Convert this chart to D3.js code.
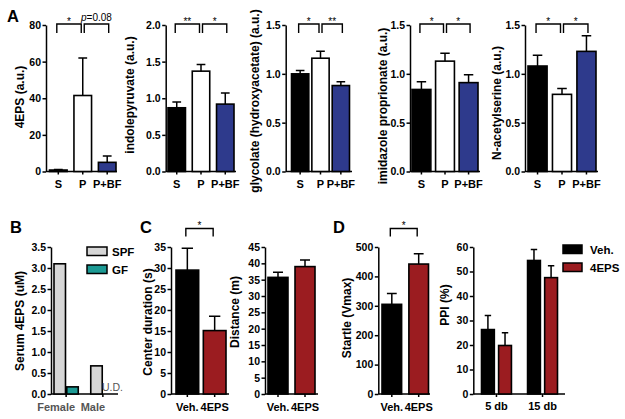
<!DOCTYPE html>
<html>
<head>
<meta charset="utf-8">
<script src="https://cdn.jsdelivr.net/npm/d3@7"></script>
<style>
body { margin: 0; background: #fff; }
svg text { font-family: Arial, "Liberation Sans", sans-serif; }
</style>
</head>
<body>
<svg id="fig" width="625" height="419"></svg>
<script>
// ---- row A: metabolites, S / P / P+BF ----
var groupsA = ['S', 'P', 'P+BF'];
var eps4Mean = [0.8, 41.5, 5.0];
var eps4Sem = [0.3, 20.5, 3.5];
var indoleMean = [0.87, 1.37, 0.92];
var indoleSem = [0.08, 0.09, 0.15];
var glycolateMean = [1.00, 1.16, 0.88];
var glycolateSem = [0.035, 0.07, 0.04];
var imidazoleMean = [0.84, 1.13, 0.91];
var imidazoleSem = [0.08, 0.08, 0.08];
var acetylMean = [1.08, 0.79, 1.23];
var acetylSem = [0.11, 0.06, 0.16];
var sigEps4 = [[0, 1, '*'], [1, 2, 'p=0.08']];
var sigIndole = [[0, 1, '**'], [1, 2, '*']];
var sigGlycolate = [[0, 1, '*'], [1, 2, '**']];
var sigImidazole = [[0, 1, '*'], [1, 2, '*']];
var sigAcetyl = [[0, 1, '*'], [1, 2, '*']];

// ---- B: serum 4EPS ----
var sexes = ['Female', 'Male'];
var colonies = ['SPF', 'GF'];
var serumSPF = [3.1, 0.67];
var serumGF = [0.17, null]; // male GF undetected

// ---- C / D: Veh. vs 4EPS ----
var treatments = ['Veh.', '4EPS'];
var centerMean = [29.5, 15.1];
var centerSem = [5.2, 3.4];
var distMean = [35.7, 39.0];
var distSem = [1.6, 2.0];
var startleMean = [305, 442];
var startleSem = [37, 35];
var ppiLevels = ['5 db', '15 db'];
var ppiVeh = [26.3, 54.5];
var ppiVehSem = [5.7, 4.5];
var ppiEps = [19.8, 47.5];
var ppiEpsSem = [5.2, 4.8];

var NAVY = '#2e3a8c', RED = '#9b1c20', GRAY = '#d6d6d6', TEAL = '#1c9a94';
var colorsA = ['#000', '#fff', NAVY];
var colorsVE = ['#000', RED];

var svg = d3.select('#fig');

function panel(o) {
    var g = svg.append('g');
    var y = d3.scaleLinear().domain([0, o.max]).range([o.bottom, o.top]);
    var x = d3.scaleBand().domain(o.cats).range([o.bandL, o.bandR]).paddingInner(o.pad);
    var ya = g.append('g').attr('transform', 'translate(' + o.x0 + ',0)')
        .call(d3.axisLeft(y).tickValues(d3.range(0, o.max + o.step / 2, o.step))
            .tickFormat(d3.format(o.fmt)).tickSize(3.5).tickSizeOuter(0).tickPadding(1.5));
    ya.selectAll('path,line').attr('stroke', '#000').attr('stroke-width', 1.5);
    ya.selectAll('text').attr('font-size', 10.5).attr('font-weight', 'bold').attr('fill', '#000');
    var xa = g.append('g').attr('transform', 'translate(0,' + o.bottom + ')')
        .call(d3.axisBottom(x).tickSize(3).tickSizeOuter(0).tickPadding(o.xpad || 6));
    xa.select('.domain').remove();
    xa.selectAll('line').attr('stroke', '#000').attr('stroke-width', 1.5);
    xa.selectAll('text').attr('font-size', 11).attr('font-weight', 'bold').attr('fill', '#000');
    g.append('line').attr('x1', o.x0).attr('x2', o.x1).attr('y1', o.bottom).attr('y2', o.bottom)
        .attr('stroke', '#000').attr('stroke-width', 1.5);
    g.append('text')
        .attr('transform', 'translate(' + o.labelX + ',' + (o.labelY || (o.top + o.bottom) / 2) + ') rotate(-90)')
        .attr('text-anchor', 'middle').attr('dy', '0.35em')
        .attr('font-size', 12).attr('font-weight', 'bold').text(o.label);
    return {g: g, x: x, y: y, xa: xa};
}

function drawBars(g, y, xs, bw, means, sems, colors) {
    means.forEach(function (m, i) {
        if (m == null) return;
        g.append('rect').attr('x', xs[i]).attr('y', y(m)).attr('width', bw)
            .attr('height', y(0) - y(m)).attr('fill', colors[i])
            .attr('stroke', '#000').attr('stroke-width', 1.6);
        if (!sems[i]) return;
        var cx = xs[i] + bw / 2, cap = Math.max(6, bw * 0.5);
        g.append('path')
            .attr('d', 'M' + cx + ',' + y(m) + 'V' + y(m + sems[i]) + 'M' + (cx - cap / 2) + ',' + y(m + sems[i]) + 'H' + (cx + cap / 2))
            .attr('stroke', '#000').attr('stroke-width', 1.5).attr('fill', 'none');
    });
}

function simpleBars(p, cats, means, sems, colors) {
    drawBars(p.g, p.y, cats.map(function (c) { return p.x(c); }), p.x.bandwidth(), means, sems, colors);
}

function brackets(p, cats, list, top, len) {
    list.forEach(function (b, k) {
        var off = k > 0 ? 1.5 : -1.5;
        var a = p.x(cats[b[0]]) + p.x.bandwidth() / 2 + off;
        var c = p.x(cats[b[1]]) + p.x.bandwidth() / 2 + off;
        p.g.append('path').attr('d', 'M' + a + ',' + (top + len) + 'V' + top + 'H' + c + 'V' + (top + len))
            .attr('fill', 'none').attr('stroke', '#000').attr('stroke-width', 1.4);
        var t = p.g.append('text').attr('x', (a + c) / 2).attr('text-anchor', 'middle').attr('font-size', 10);
        if (b[2].charAt(0) === 'p') {
            t.attr('y', top - 3);
            t.append('tspan').attr('font-style', 'italic').text('p');
            t.append('tspan').text(b[2].slice(1));
        } else {
            t.attr('y', top + 0.5).text(b[2]);
        }
    });
}

function letter(t, x, y) {
    svg.append('text').attr('x', x).attr('y', y).attr('font-size', 16.5).attr('font-weight', 'bold').text(t);
}

// ---------- row A ----------
var rowA = {top: 25, bottom: 171.5, cats: groupsA};
var panelsA = [
    {x0: 46, x1: 117, bandL: 49.5, bandR: 116, pad: 0.28, max: 80, step: 20, fmt: 'd', label: '4EPS (a.u.)', labelX: 20, labelY: 97, mean: eps4Mean, sem: eps4Sem, sig: sigEps4},
    {x0: 165.7, x1: 236, bandL: 168, bandR: 234, pad: 0.28, max: 2, step: 0.5, fmt: '.1f', label: 'indolepyruvate (a.u.)', labelX: 130, labelY: 95, mean: indoleMean, sem: indoleSem, sig: sigIndole},
    {x0: 285.7, x1: 352, bandL: 291.5, bandR: 349.5, pad: 0.15, max: 1.5, step: 0.5, fmt: '.1f', label: 'glycolate (hydroxyacetate) (a.u.)', labelX: 255, labelY: 101, mean: glycolateMean, sem: glycolateSem, sig: sigGlycolate},
    {x0: 410, x1: 480, bandL: 412, bandR: 478, pad: 0.2, max: 1.5, step: 0.5, fmt: '.1f', label: 'imidazole proprionate (a.u.)', labelX: 383, labelY: 106, mean: imidazoleMean, sem: imidazoleSem, sig: sigImidazole},
    {x0: 525, x1: 598, bandL: 528, bandR: 596, pad: 0.22, max: 1.5, step: 0.5, fmt: '.1f', label: 'N-acetylserine (a.u.)', labelX: 497, labelY: 103, mean: acetylMean, sem: acetylSem, sig: sigAcetyl}
];
panelsA.forEach(function (o) {
    var p = panel(Object.assign({}, rowA, o));
    simpleBars(p, groupsA, o.mean, o.sem, colorsA);
    brackets(p, groupsA, o.sig, 24, 9);
});
letter('A', 7, 22);

// ---------- row 2 ----------
var row2 = {top: 247, bottom: 394};

// B: grouped bars
var pB = panel(Object.assign({}, row2, {cats: sexes, x0: 51, x1: 118, bandL: 54, bandR: 115, pad: 0.34,
    max: 3.5, step: 0.5, fmt: '.1f', label: 'Serum 4EPS (uM)', labelX: 20, labelY: 321}));
pB.xa.selectAll('text').attr('dx', -10).attr('fill', '#555');
var inB = d3.scaleBand().domain(colonies).range([0, pB.x.bandwidth()]).paddingInner(0.1);
drawBars(pB.g, pB.y, sexes.map(function (s) { return pB.x(s) + inB('SPF'); }), inB.bandwidth(), serumSPF, [0, 0], [GRAY, GRAY]);
drawBars(pB.g, pB.y, sexes.map(function (s) { return pB.x(s) + inB('GF'); }), inB.bandwidth(), serumGF, [0, 0], [TEAL, TEAL]);
serumGF.forEach(function (v, i) {
    if (v == null) {
        pB.g.append('text').attr('x', pB.x(sexes[i]) + inB('GF') - 1.5).attr('y', 390.5)
            .attr('font-size', 10.5).attr('fill', '#555').text('U.D.');
    }
});
[['SPF', GRAY, 247], ['GF', TEAL, 265]].forEach(function (l) {
    svg.append('rect').attr('x', 87).attr('y', l[2]).attr('width', 20).attr('height', 8.5)
        .attr('fill', l[1]).attr('stroke', '#000').attr('stroke-width', 1.5);
    svg.append('text').attr('x', 112).attr('y', l[2] + 8.5).attr('font-size', 11.5).attr('font-weight', 'bold').text(l[0]);
});
letter('B', 10, 233);

// C
var pC1 = panel(Object.assign({}, row2, {cats: treatments, x0: 171, x1: 229, bandL: 176, bandR: 226, pad: 0.17,
    max: 35, step: 5, fmt: 'd', label: 'Center duration (s)', labelX: 147.5, labelY: 322}));
simpleBars(pC1, treatments, centerMean, centerSem, colorsVE);
brackets(pC1, treatments, [[0, 1, '*']], 228.5, 8);
var pC2 = panel(Object.assign({}, row2, {cats: treatments, x0: 265, x1: 318, bandL: 268, bandR: 315, pad: 0.26,
    max: 45, step: 5, fmt: 'd', label: 'Distance (m)', labelX: 235, labelY: 312}));
simpleBars(pC2, treatments, distMean, distSem, colorsVE);
letter('C', 140, 233);

// D
var pD1 = panel(Object.assign({}, row2, {cats: treatments, x0: 378.3, x1: 430, bandL: 382, bandR: 428.5, pad: 0.27,
    max: 500, step: 100, fmt: 'd', label: 'Startle (Vmax)', labelX: 346.7, labelY: 318}));
simpleBars(pD1, treatments, startleMean, startleSem, colorsVE);
brackets(pD1, treatments, [[0, 1, '*']], 228.5, 8);
var pD2 = panel(Object.assign({}, row2, {cats: ppiLevels, x0: 473.3, x1: 565, bandL: 481.5, bandR: 557.5, pad: 0.35,
    max: 60, step: 10, fmt: 'd', label: 'PPI (%)', labelX: 445, labelY: 305, xpad: 5}));
var inD = d3.scaleBand().domain(treatments).range([0, pD2.x.bandwidth()]).paddingInner(0.25);
drawBars(pD2.g, pD2.y, ppiLevels.map(function (l) { return pD2.x(l) + inD('Veh.'); }), inD.bandwidth(), ppiVeh, ppiVehSem, ['#000', '#000']);
drawBars(pD2.g, pD2.y, ppiLevels.map(function (l) { return pD2.x(l) + inD('4EPS'); }), inD.bandwidth(), ppiEps, ppiEpsSem, [RED, RED]);
[['Veh.', '#000', 245], ['4EPS', RED, 263]].forEach(function (l) {
    svg.append('rect').attr('x', 563).attr('y', l[2]).attr('width', 19).attr('height', 8.5)
        .attr('fill', l[1]).attr('stroke', '#000').attr('stroke-width', 1.5);
    svg.append('text').attr('x', 590).attr('y', l[2] + 8.5).attr('font-size', 11.5).attr('font-weight', 'bold').text(l[0]);
});
letter('D', 333, 233);
</script>
</body>
</html>
